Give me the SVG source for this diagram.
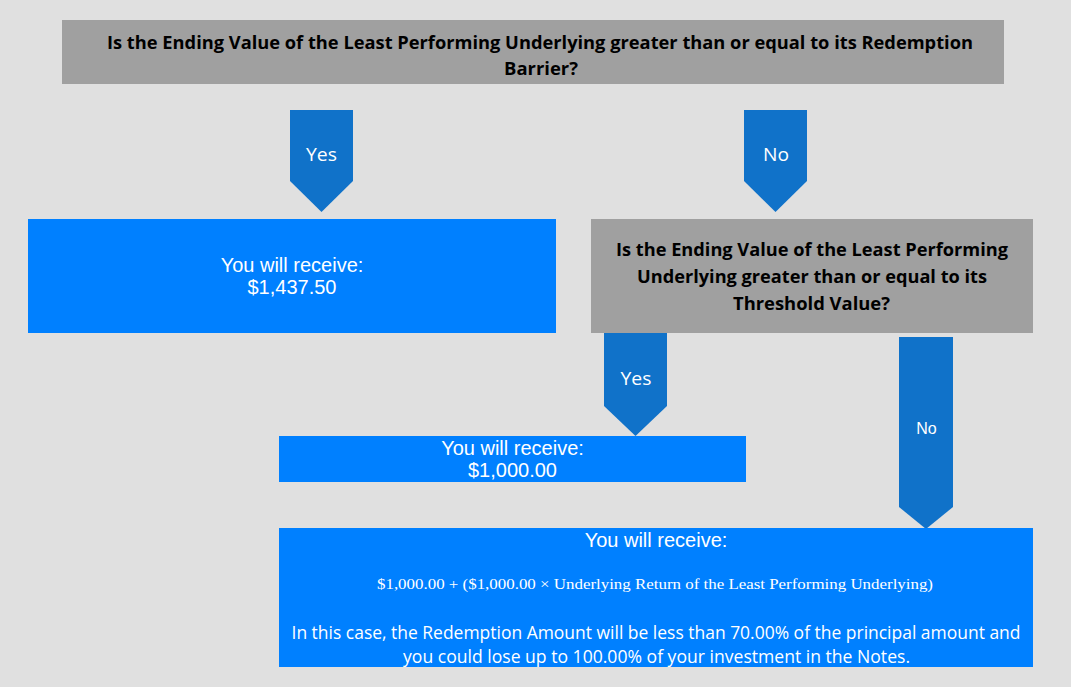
<svg xmlns="http://www.w3.org/2000/svg" width="1071" height="687" viewBox="0 0 1071 687">
<style>
.q{fill:#a0a0a0}
.b{fill:#0080ff}
.ar{fill:#1072c9}
.qt{font-family:"Open Sans","Noto Sans",sans-serif;font-weight:bold;font-size:18px;fill:#000;text-anchor:middle}
.bt{font-family:"Liberation Sans",Arial,sans-serif;font-size:20px;fill:#fff;text-anchor:middle}
.lt{font-family:"Open Sans","Noto Sans",sans-serif;font-size:18px;fill:#fff;text-anchor:middle}
.ft{font-family:"Liberation Serif","DejaVu Serif",serif;font-size:15px;fill:#fff;text-anchor:middle}
.ct{font-family:"Open Sans","Noto Sans",sans-serif;font-size:17.5px;fill:#fff;text-anchor:middle}
</style>
<rect width="1071" height="687" fill="#e0e0e0"/>
<g id="connectors">
<g id="c-yes1"><polygon class="ar" points="290,110 353,110 353,181 321.5,212 290,181"/><text class="lt" x="321.5" y="161" textLength="31" lengthAdjust="spacingAndGlyphs">Yes</text></g>
<g id="c-no1"><polygon class="ar" points="744,110 807,110 807,181 775.5,212 744,181"/><text class="lt" x="776" y="161" textLength="26" lengthAdjust="spacingAndGlyphs">No</text></g>
<g id="c-yes2"><polygon class="ar" points="604,333 667,333 667,406 635.5,436 604,406"/><text class="lt" x="636" y="385" textLength="31" lengthAdjust="spacingAndGlyphs">Yes</text></g>
<g id="c-no2"><polygon class="ar" points="899,337 953,337 953,507 926,529 899,507"/><text class="bt" style="font-size:16px" x="926.5" y="434">No</text></g>
</g>
<g id="q1">
<rect class="q" x="62" y="20" width="942" height="64"/>
<text class="qt" x="540" y="49" textLength="866" lengthAdjust="spacingAndGlyphs">Is the Ending Value of the Least Performing Underlying greater than or equal to its Redemption</text>
<text class="qt" x="541" y="75" textLength="74" lengthAdjust="spacingAndGlyphs">Barrier?</text>
</g>
<g id="r1">
<rect class="b" x="28" y="219" width="528" height="114"/>
<text class="bt" x="292" y="272">You will receive:</text>
<text class="bt" x="292" y="294">$1,437.50</text>
</g>
<g id="q2">
<rect class="q" x="591" y="219" width="442" height="114"/>
<text class="qt" x="812" y="256" textLength="392" lengthAdjust="spacingAndGlyphs">Is the Ending Value of the Least Performing</text>
<text class="qt" x="812" y="283" textLength="350" lengthAdjust="spacingAndGlyphs">Underlying greater than or equal to its</text>
<text class="qt" x="811.5" y="310" textLength="157" lengthAdjust="spacingAndGlyphs">Threshold Value?</text>
</g>
<g id="r2">
<rect class="b" x="279" y="436" width="467" height="46"/>
<text class="bt" x="512.5" y="455">You will receive:</text>
<text class="bt" x="512.5" y="477">$1,000.00</text>
</g>
<g id="r3">
<rect class="b" x="279" y="528" width="754" height="139"/>
<text class="bt" x="656" y="547">You will receive:</text>
<text class="ft" x="655" y="589" textLength="556" lengthAdjust="spacingAndGlyphs">$1,000.00 + ($1,000.00 × Underlying Return of the Least Performing Underlying)</text>
<text class="ct" x="656" y="639" textLength="729" lengthAdjust="spacingAndGlyphs">In this case, the Redemption Amount will be less than 70.00% of the principal amount and</text>
<text class="ct" x="656.5" y="663" textLength="507" lengthAdjust="spacingAndGlyphs">you could lose up to 100.00% of your investment in the Notes.</text>
</g>
</svg>
